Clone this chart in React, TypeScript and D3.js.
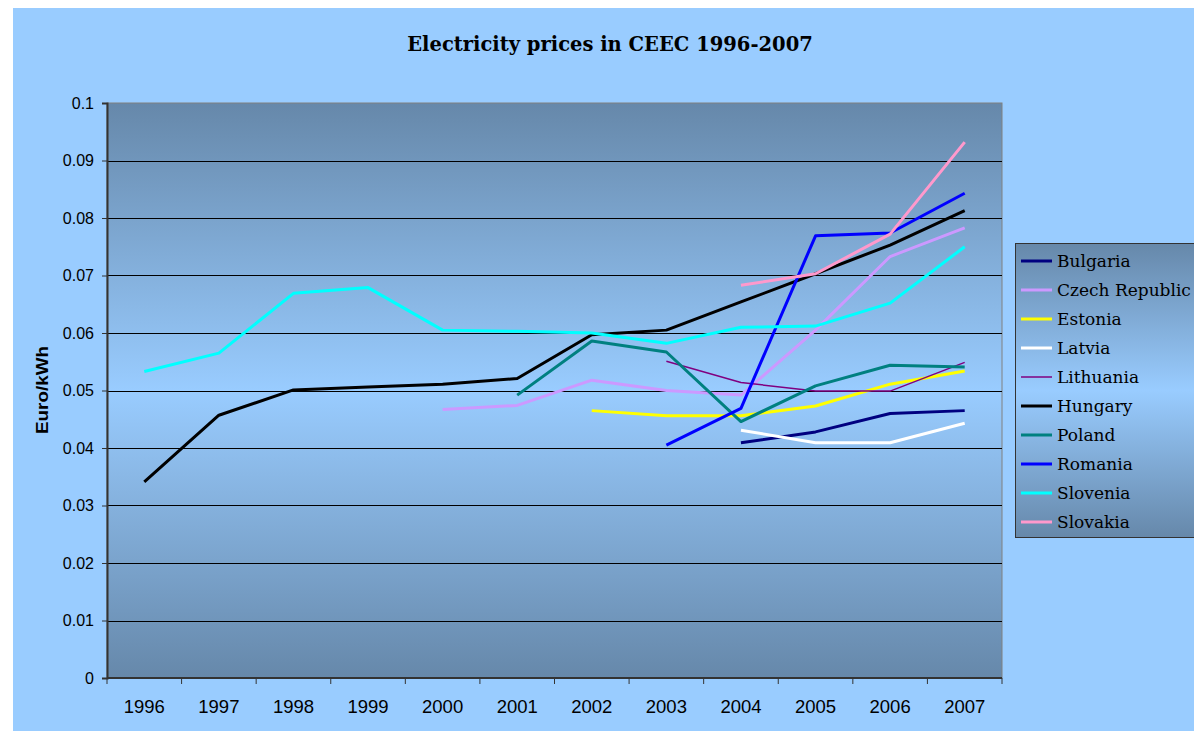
import React, { useRef, useEffect } from 'react';
import * as d3 from 'd3';

// Years on the category axis
const years = ['1996', '1997', '1998', '1999', '2000', '2001', '2002', '2003', '2004', '2005', '2006', '2007'];

// Euro/kWh per country, null where there is no value
const bulgaria = [null, null, null, null, null, null, null, null, 0.0409, 0.0428, 0.046, 0.0465];
const czechRepublic = [null, null, null, null, 0.0467, 0.0474, 0.0518, 0.05, 0.0492, 0.0605, 0.0733, 0.0783];
const estonia = [null, null, null, null, null, null, 0.0465, 0.0456, 0.0456, 0.0473, 0.0511, 0.0534];
const latvia = [null, null, null, null, null, null, null, null, 0.0431, 0.0409, 0.0409, 0.0443];
const lithuania = [null, null, null, null, null, null, null, 0.0551, 0.0514, 0.0499, 0.0499, 0.0549];
const hungary = [0.0341, 0.0457, 0.0501, 0.0506, 0.0511, 0.0521, 0.0597, 0.0605, 0.0654, 0.0703, 0.0753, 0.0813];
const poland = [null, null, null, null, null, 0.0492, 0.0586, 0.0567, 0.0446, 0.0508, 0.0544, 0.0541];
const romania = [null, null, null, null, null, null, null, 0.0405, 0.0469, 0.0769, 0.0774, 0.0843];
const slovenia = [0.0533, 0.0565, 0.0669, 0.0679, 0.0605, 0.0603, 0.06, 0.0582, 0.061, 0.0612, 0.0652, 0.075];
const slovakia = [null, null, null, null, null, null, null, null, 0.0683, 0.0703, 0.0772, 0.0932];

const yTicks = [0, 0.01, 0.02, 0.03, 0.04, 0.05, 0.06, 0.07, 0.08, 0.09, 0.1];

const series = [
  { name: 'Bulgaria', values: bulgaria, color: '#000080', width: 3 },
  { name: 'Czech Republic', values: czechRepublic, color: '#CC99FF', width: 3 },
  { name: 'Estonia', values: estonia, color: '#FFFF00', width: 3 },
  { name: 'Latvia', values: latvia, color: '#FFFFFF', width: 3 },
  { name: 'Lithuania', values: lithuania, color: '#800080', width: 1.5 },
  { name: 'Hungary', values: hungary, color: '#000000', width: 3 },
  { name: 'Poland', values: poland, color: '#008080', width: 3 },
  { name: 'Romania', values: romania, color: '#0000FF', width: 3 },
  { name: 'Slovenia', values: slovenia, color: '#00FFFF', width: 3 },
  { name: 'Slovakia', values: slovakia, color: '#FF99CC', width: 3 },
];

const App = () => {
  const ref = useRef<SVGSVGElement>(null);

  useEffect(() => {
    const svg = d3.select(ref.current);
    svg.selectAll('*').remove();

    const width = 1194;
    const height = 731;
    const plot = { left: 107, top: 103, right: 1002, bottom: 678 };
    const sans = 'Liberation Sans, Arial, sans-serif';
    const serif = 'DejaVu Serif, serif';

    const defs = svg.append('defs');
    const grad = defs.append('linearGradient')
      .attr('id', 'plotGrad')
      .attr('x1', 0).attr('y1', 0).attr('x2', 0).attr('y2', 1);
    grad.append('stop').attr('offset', '0%').attr('stop-color', '#6688AA');
    grad.append('stop').attr('offset', '50%').attr('stop-color', '#99CCFF');
    grad.append('stop').attr('offset', '100%').attr('stop-color', '#6688AA');

    // page and chart background
    svg.append('rect').attr('width', width).attr('height', height).attr('fill', '#fff');
    svg.append('rect')
      .attr('x', 13).attr('y', 8)
      .attr('width', width - 13).attr('height', height - 8)
      .attr('fill', '#99CCFF');

    const x = d3.scaleBand().domain(years).range([plot.left, plot.right]);
    const y = d3.scaleLinear().domain([0, 0.1]).range([plot.bottom, plot.top]);

    svg.append('rect')
      .attr('x', plot.left).attr('y', plot.top)
      .attr('width', plot.right - plot.left).attr('height', plot.bottom - plot.top)
      .attr('fill', 'url(#plotGrad)')
      .attr('stroke', '#808080')
      .attr('stroke-width', 1);

    // gridlines
    svg.append('g')
      .selectAll('line')
      .data(yTicks.slice(1, -1))
      .join('line')
      .attr('x1', plot.left).attr('x2', plot.right)
      .attr('y1', d => Math.round(y(d)) + 0.5).attr('y2', d => Math.round(y(d)) + 0.5)
      .attr('stroke', '#000').attr('stroke-width', 1);

    // y axis
    const yAxis = svg.append('g')
      .attr('transform', `translate(${plot.left},0)`)
      .call(d3.axisLeft(y).tickValues(yTicks).tickSize(5).tickPadding(8).tickFormat(d => String(+d)));
    yAxis.select('.domain').attr('stroke', '#333').attr('stroke-width', 2);
    yAxis.selectAll('.tick line').attr('stroke', '#333');
    yAxis.selectAll('text')
      .attr('font-family', sans)
      .attr('font-size', 16).attr('fill', '#000');

    // x axis with ticks on category boundaries
    const xg = svg.append('g').attr('transform', `translate(0,${plot.bottom})`);
    xg.append('line')
      .attr('x1', plot.left).attr('x2', plot.right)
      .attr('stroke', '#333').attr('stroke-width', 2);
    const bounds = years.map(d => x(d) as number).concat([plot.right]);
    xg.selectAll('line.tk')
      .data(bounds)
      .join('line')
      .attr('class', 'tk')
      .attr('x1', d => d).attr('x2', d => d)
      .attr('y1', 0).attr('y2', 6)
      .attr('stroke', '#333');
    xg.selectAll('text')
      .data(years)
      .join('text')
      .attr('x', d => (x(d) as number) + x.bandwidth() / 2)
      .attr('y', 35)
      .attr('text-anchor', 'middle')
      .attr('font-family', sans)
      .attr('font-size', 18.5)
      .text(d => d);

    // lines
    const line = d3.line<number | null>()
      .defined(d => d !== null)
      .x((_, i) => (x(years[i]) as number) + x.bandwidth() / 2)
      .y(d => y(d as number));

    svg.append('g')
      .selectAll('path')
      .data(series)
      .join('path')
      .attr('d', s => line(s.values))
      .attr('fill', 'none')
      .attr('stroke', s => s.color)
      .attr('stroke-width', s => s.width)
      .attr('stroke-linejoin', 'round');

    // title
    svg.append('text')
      .attr('x', 610).attr('y', 51)
      .attr('text-anchor', 'middle')
      .attr('font-family', serif)
      .attr('font-weight', 'bold')
      .attr('font-size', 19.5)
      .text('Electricity prices in CEEC 1996-2007');

    // y axis title (stretched like the original)
    svg.append('text')
      .attr('transform', 'translate(48,390) rotate(-90)')
      .attr('text-anchor', 'middle')
      .attr('font-family', sans)
      .attr('font-weight', 'bold')
      .attr('font-size', 17)
      .attr('textLength', 88)
      .attr('lengthAdjust', 'spacingAndGlyphs')
      .text('Euro/kWh');

    // legend
    const lg = svg.append('g');
    lg.append('rect')
      .attr('x', 1015.5).attr('y', 243.5)
      .attr('width', 200).attr('height', 294)
      .attr('fill', 'url(#plotGrad)')
      .attr('stroke', '#333').attr('stroke-width', 1);
    const items = lg.selectAll('g.item')
      .data(series)
      .join('g')
      .attr('class', 'item')
      .attr('transform', (_, i) => `translate(1021,${261 + i * 29})`);
    items.append('line')
      .attr('x1', 0).attr('x2', 31)
      .attr('stroke', s => s.color)
      .attr('stroke-width', s => s.width);
    items.append('text')
      .attr('x', 36).attr('y', 6)
      .attr('font-family', serif)
      .attr('font-size', 17)
      .text(s => s.name);
  }, []);

  return (
    <div style={{ position: 'absolute', left: 0, top: 0 }}>
      <svg ref={ref} width={1194} height={731} style={{ display: 'block' }}></svg>
    </div>
  );
};

export default App;
